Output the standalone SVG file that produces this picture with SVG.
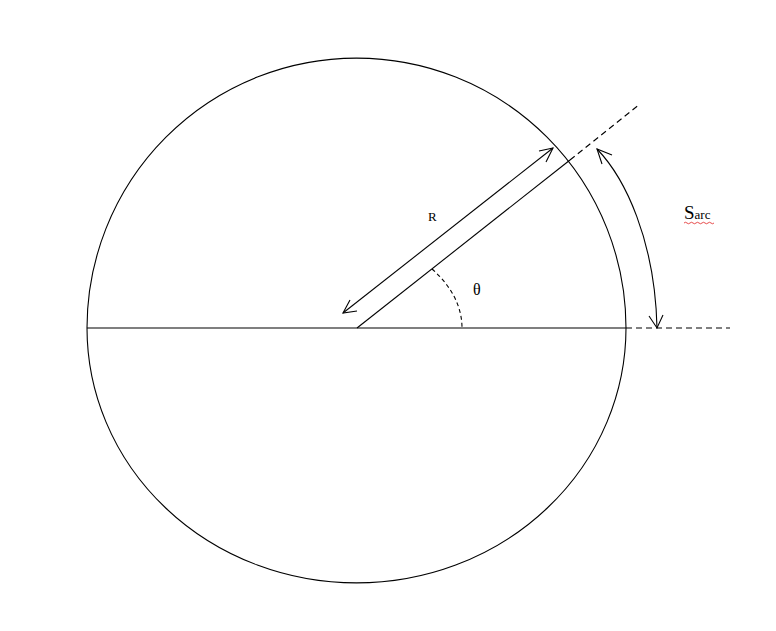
<svg xmlns="http://www.w3.org/2000/svg" width="776" height="631" viewBox="0 0 776 631">
<style>
.ln{fill:none;stroke:#000;stroke-width:1.1}
.ds{fill:none;stroke:#000;stroke-width:1.1;stroke-dasharray:6 4}
.ds2{fill:none;stroke:#000;stroke-width:1.1;stroke-dasharray:4 3}
.lbl{font-family:"Liberation Serif","Times New Roman",serif;fill:#000}
</style>
<rect width="776" height="631" fill="#fff"/>
<g id="circle">
<path class="ln" d="M87,328 A269.5,270 0 0 1 626,328 A269.5,255 0 0 1 87,328 Z"/>
</g>
<g id="connectors">
<line class="ln" x1="87" y1="328" x2="626" y2="328"/>
<line class="ds" x1="626" y1="328" x2="730" y2="328"/>
<line class="ln" x1="357" y1="328" x2="570" y2="160"/>
<line class="ds" x1="570" y1="160" x2="640" y2="104"/>
<path class="ds2" d="M432,269 C449,284 462,304 462,328"/>
<g id="r-arrow">
<line class="ln" x1="343" y1="313" x2="553" y2="148"/>
<polyline class="ln" points="350,300 343,313 357,311"/>
<polyline class="ln" points="539,151 553,148 546,162"/>
</g>
<g id="sarc-arrow">
<path class="ln" d="M597,149 C625,178 655,240 657,328"/>
<polyline class="ln" points="612,155 597,149 602,164"/>
<polyline class="ln" points="649,316 657,328 663,315"/>
</g>
</g>
<g id="label-r"><text class="lbl" x="428" y="221" font-size="13">R</text></g>
<g id="label-theta"><text class="lbl" x="473" y="295" font-size="16">θ</text></g>
<g id="label-sarc">
<text class="lbl" x="684" y="219" font-size="19">S<tspan font-size="13">arc</tspan></text>
<path d="M684,223 q1.5,-1.5 3,0 t3,0 t3,0 t3,0 t3,0 t3,0 t3,0 t3,0 t3,0 t3,0" fill="none" stroke="#e02020" stroke-width="0.8"/>
</g>
</svg>
